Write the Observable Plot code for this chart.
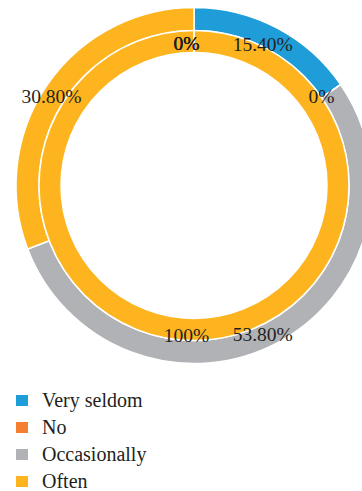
<!DOCTYPE html>
<html>
<head>
<meta charset="utf-8">
<script src="https://cdn.jsdelivr.net/npm/d3@7"></script>
<script src="https://cdn.jsdelivr.net/npm/@observablehq/plot@0.6"></script>
<style>
  html, body { margin: 0; padding: 0; background: #fff; overflow: hidden; width: 362px; }
  #chart svg { display: block; }
  .legend { margin-top: 12px; font-size: 20px; color: #231f20; }
  .legend .row { display: flex; align-items: center; height: 27px; padding-left: 16px; }
  .legend .sw { width: 12px; height: 11px; margin-right: 14px; flex: none; }
</style>
</head>
<body>
<div id="chart"></div>
<script>
// Data
const categories = ["Very seldom", "No", "Occasionally", "Often"];
const outerValues = [15.4, 0, 53.8, 30.8];   // outer ring (%)
const innerValues = [0, 0, 0, 100];          // inner ring (%)
const outerLabels = ["15.40%", "0%", "53.80%", "30.80%"];
const innerLabels = ["0%", "0%", "0%", "100%"];
const colors = ["#1e9dd9", "#f47f33", "#b1b2b5", "#fdb41e"];

// pick an installed serif font
function pickFont(cands) {
  const ctx = document.createElement("canvas").getContext("2d");
  const sample = "Very seldom Occasionally 15.40% 0123456789";
  ctx.font = "20px monospace";
  const base = ctx.measureText(sample).width;
  for (const c of cands) {
    ctx.font = `20px "${c}", monospace`;
    if (Math.abs(ctx.measureText(sample).width - base) > 0.5) return `"${c}"`;
  }
  return "serif";
}
const serif = pickFont(["Liberation Serif", "Times New Roman", "Tinos", "DejaVu Serif", "Noto Serif", "FreeSerif", "Times"]) + ", serif";

// Ring geometry (in plot units; outer radius = 1)
const rings = [
  {name: "outer", values: outerValues, labels: outerLabels, r0: 155 / 178, r1: 1, lr: 164 / 178},
  {name: "inner", values: innerValues, labels: innerLabels, r0: 133 / 178, r1: 155 / 178, lr: 146 / 178}
];

const segments = [];
for (const ring of rings) {
  const total = d3.sum(ring.values);
  let acc = 0;
  ring.values.forEach((v, i) => {
    const a0 = acc / total * 2 * Math.PI;
    acc += v;
    const a1 = acc / total * 2 * Math.PI;
    const am = (a0 + a1) / 2;
    segments.push({
      ring: ring.name, category: categories[i], value: v, label: ring.labels[i],
      a0, a1, r0: ring.r0, r1: ring.r1,
      lx: ring.lr * Math.sin(am), ly: ring.lr * Math.cos(am)
    });
  });
}

// Custom arc mark drawn through Plot's x/y scales
function arcs(data) {
  return (index, scales) => {
    const cx = scales.x(0), cy = scales.y(0);
    const k = scales.x(1) - scales.x(0);
    const g = d3.create("svg:g");
    const arc = d3.arc();
    g.selectAll("path")
      .data(data.filter(d => d.value > 0))
      .join("path")
      .attr("transform", `translate(${cx},${cy})`)
      .attr("d", d => arc({innerRadius: d.r0 * k, outerRadius: d.r1 * k, startAngle: d.a0, endAngle: d.a1}))
      .attr("fill", d => scales.color(d.category))
      .attr("stroke", "#fff")
      .attr("stroke-width", 1.5)
      .attr("stroke-linejoin", "round");
    g.selectAll("line")
      .data(data.filter(d => d.value === 0))
      .join("line")
      .attr("x1", d => cx + d.r0 * k * Math.sin(d.a0))
      .attr("y1", d => cy - d.r0 * k * Math.cos(d.a0))
      .attr("x2", d => cx + d.r1 * k * Math.sin(d.a0))
      .attr("y2", d => cy - d.r1 * k * Math.cos(d.a0))
      .attr("stroke", "#fff")
      .attr("stroke-width", 1.5);
    return g.node();
  };
}

const chart = Plot.plot({
  width: 362,
  height: 375,
  margin: 0,
  x: {domain: [-1, 1], range: [16, 372], axis: null},
  y: {domain: [-1, 1], range: [363.5, 7.5], axis: null},
  color: {domain: categories, range: colors},
  style: {overflow: "hidden", background: "#fff"},
  marks: [
    arcs(segments),
    Plot.text(segments, {
      x: "lx", y: "ly", text: "label",
      dx: -8, dy: 4,
      fill: "#231f20",
      fontSize: 19.5,
      fontFamily: serif,
      textAnchor: "middle"
    })
  ]
});
document.getElementById("chart").appendChild(chart);

// Legend
const legend = d3.select("body").append("div").attr("class", "legend").style("font-family", serif);
const rows = legend.selectAll(".row").data(categories).join("div").attr("class", "row");
rows.append("div").attr("class", "sw").style("background", (d, i) => colors[i]);
rows.append("span").text(d => d);
</script>
</body>
</html>
